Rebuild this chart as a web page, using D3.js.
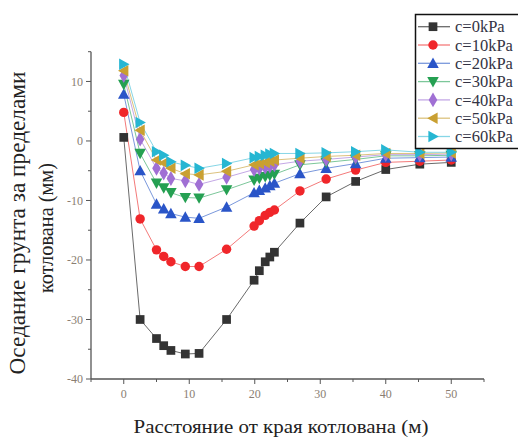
<!DOCTYPE html>
<html><head><meta charset="utf-8">
<script src="https://cdn.jsdelivr.net/npm/d3@7"></script>
<style>body{margin:0;background:#fff}svg{display:block}svg text{font-family:"Liberation Serif","Times New Roman",serif}</style>
</head><body><svg id="c" width="518" height="438"></svg>
<script>
const distances = [0, 2.5, 5, 6.1, 7.2, 9.4, 11.5, 15.7, 19.9, 20.7, 21.6, 22.3, 23.0, 26.9, 30.9, 35.4, 40, 45.2, 50];
const seriesNames = ["c=0kPa","c=10kPa","c=20kPa","c=30kPa","c=40kPa","c=50kPa","c=60kPa"];
const c0  = [0.6, -30, -33.2, -34.4, -35.2, -35.8, -35.7, -30, -23.4, -21.8, -20.3, -19.5, -18.7, -13.8, -9.4, -6.8, -4.8, -3.9, -3.6];
const c10 = [4.8, -13.1, -18.3, -19.4, -20.3, -21.1, -21.1, -18.2, -14.3, -13.4, -12.5, -12.0, -11.6, -8.4, -6.4, -4.9, -3.6, -3.4, -3.2];
const c20 = [7.85, -5.0, -10.6, -11.4, -12.2, -12.8, -13.0, -11.1, -8.7, -8.3, -7.9, -7.5, -7.1, -5.5, -4.6, -3.8, -2.9, -2.8, -2.7];
const c30 = [9.5, -2.1, -7.1, -7.9, -8.7, -9.5, -9.6, -8.2, -6.6, -6.3, -6.0, -5.8, -5.6, -4.0, -3.6, -3.1, -2.5, -2.5, -2.4];
const c40 = [11.0, 0.3, -4.6, -5.4, -6.3, -6.7, -7.3, -6.1, -4.8, -4.6, -4.4, -4.2, -4.0, -3.4, -3.1, -2.7, -2.3, -2.3, -2.2];
const c50 = [11.8, 1.8, -3.2, -3.7, -4.6, -5.5, -5.7, -5.1, -4.0, -3.8, -3.6, -3.4, -3.2, -2.9, -2.6, -2.4, -2.1, -2.1, -2.0];
const c60 = [12.9, 3.1, -1.8, -2.4, -3.5, -4.1, -4.6, -3.8, -2.8, -2.6, -2.4, -2.2, -2.1, -2.1, -2.0, -1.8, -1.5, -1.9, -1.9];
const xTicks = [0, 10, 20, 30, 40, 50];
const yTicks = [-40, -30, -20, -10, 0, 10];
const xLabel = "Расстояние от края котлована (м)";
const yLabel1 = "Оседание грунта за пределами";
const yLabel2 = "котлована (мм)";

const allSeries = [c0, c10, c20, c30, c40, c50, c60];
const markerColors = ["#333333", "#f0262a", "#2a55c8", "#25a052", "#a070d4", "#c9a032", "#26b6d2"];
const lineColors   = ["#6a6a6a", "#f47a7a", "#7a98dc", "#7cc79a", "#c4a8e6", "#dcc27e", "#86d6e6"];
const symbols = [d3.symbolSquare, d3.symbolCircle, "up", "down", d3.symbolDiamond, "left", "right"];

const svg = d3.select("#c");
const x = d3.scaleLinear().domain([-5, 55]).range([91, 484]);
const y = d3.scaleLinear().domain([-40, 15]).range([379, 51.7]);

function tri(dir, s) {
  const p = d3.path();
  const h = s * 0.55, w = s * 0.55;
  if (dir === "up")   { p.moveTo(0, -h); p.lineTo(w, h*0.8); p.lineTo(-w, h*0.8); }
  if (dir === "down") { p.moveTo(0, h); p.lineTo(w, -h*0.8); p.lineTo(-w, -h*0.8); }
  if (dir === "left") { p.moveTo(-h, 0); p.lineTo(h*0.8, -w); p.lineTo(h*0.8, w); }
  if (dir === "right"){ p.moveTo(h, 0); p.lineTo(-h*0.8, -w); p.lineTo(-h*0.8, w); }
  p.closePath();
  return p.toString();
}
function markerPath(i) {
  const s = symbols[i];
  if (typeof s === "string") return tri(s, 10.5);
  if (s === d3.symbolSquare) return d3.symbol(s, 76)();
  if (s === d3.symbolCircle) return d3.symbol(s, 70)();
  return d3.symbol(s, 64)();
}

// axes
const xAxis = svg.append("g").attr("transform", "translate(0,379)");
xAxis.append("line").attr("x1", x(-5)).attr("x2", x(55)).attr("stroke", "#555").attr("stroke-width", 1.3);
d3.range(-5, 56, 5).forEach(v => {
  const major = xTicks.includes(v);
  xAxis.append("line").attr("x1", x(v)).attr("x2", x(v)).attr("y1", 0).attr("y2", major ? 5 : 3)
    .attr("stroke", "#555").attr("stroke-width", 1);
});
xTicks.forEach(v => xAxis.append("text").attr("x", x(v)).attr("y", 19).attr("text-anchor", "middle")
  .attr("font-size", 12).attr("fill", "#8a7e72").text(v));

const yAxis = svg.append("g").attr("transform", "translate(91,0)");
yAxis.append("line").attr("y1", y(-40)).attr("y2", y(15)).attr("stroke", "#555").attr("stroke-width", 1.3);
d3.range(-40, 16, 5).forEach(v => {
  const major = yTicks.includes(v);
  yAxis.append("line").attr("x1", 0).attr("x2", major ? -5 : -3).attr("y1", y(v)).attr("y2", y(v))
    .attr("stroke", "#555").attr("stroke-width", 1);
});
yTicks.forEach(v => yAxis.append("text").attr("x", -8).attr("y", y(v)).attr("dy", "0.35em").attr("text-anchor", "end")
  .attr("font-size", 12).attr("fill", "#8a7e72").text(v));

// series
const line = d3.line().x((d, i) => x(distances[i])).y(d => y(d));
allSeries.forEach((vals, i) => {
  svg.append("path").attr("d", line(vals)).attr("fill", "none").attr("stroke", lineColors[i]).attr("stroke-width", 1);
});
allSeries.forEach((vals, i) => {
  svg.append("g").selectAll("path").data(vals).join("path")
    .attr("transform", (d, j) => `translate(${x(distances[j])},${y(d)})`)
    .attr("d", markerPath(i)).attr("fill", markerColors[i]);
});

// legend
const lg = svg.append("g");
lg.append("rect").attr("x", 415.5).attr("y", 14.5).attr("width", 110).attr("height", 134)
  .attr("fill", "#fff").attr("stroke", "#111").attr("stroke-width", 1.5);
seriesNames.forEach((n, i) => {
  const yy = 26.7 + i * 18.3;
  lg.append("line").attr("x1", 418).attr("x2", 450).attr("y1", yy).attr("y2", yy).attr("stroke", lineColors[i]).attr("stroke-width", 1.3);
  lg.append("path").attr("transform", `translate(433,${yy})`).attr("d", markerPath(i)).attr("fill", markerColors[i]);
  lg.append("text").attr("x", 455).attr("y", yy).attr("dy", "0.35em")
    .attr("font-size", 16.5).attr("fill", "#333344").text(n);
});

// titles
svg.append("text").attr("x", 281).attr("y", 433).attr("text-anchor", "middle")
  .attr("font-size", 19).attr("fill", "#222").attr("textLength", 295).attr("lengthAdjust", "spacingAndGlyphs").text(xLabel);
svg.append("text").attr("transform", "translate(25,223) rotate(-90)").attr("text-anchor", "middle")
  .attr("font-size", 23).attr("fill", "#222").attr("textLength", 303).attr("lengthAdjust", "spacingAndGlyphs").text(yLabel1);
svg.append("text").attr("transform", "translate(53,228) rotate(-90)").attr("text-anchor", "middle")
  .attr("font-size", 22).attr("fill", "#222").attr("textLength", 130).attr("lengthAdjust", "spacingAndGlyphs").text(yLabel2);
</script></body></html>
